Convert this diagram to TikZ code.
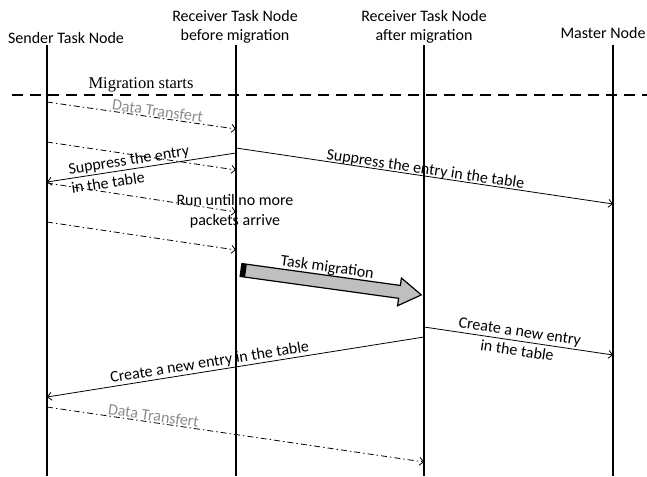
\documentclass[tikz,border=0pt]{standalone}
\usepackage{fontspec}
\setmainfont{Carlito}
\newfontfamily\serifmig{Liberation Serif}
\usetikzlibrary{arrows.meta}
\begin{document}
\begin{tikzpicture}
  [x=1pt,y=-1pt
  ,font=\fontsize{16}{19.5}\selectfont
  ,>={Straight Barb[length=4pt,width=8pt]}
  ,head/.style={align=center,inner sep=0pt}
  ,life/.style={line width=1.6pt}
  ,msg/.style={->,line width=0.8pt}
  ,data/.style={msg,dash pattern=on 6pt off 3pt on 1.5pt off 3pt}
  ,note/.style={sloped,inner sep=1pt}
  ,grey note/.style={note,text=black!45}
  ,baseline=0pt]
\useasboundingbox (0,0) rectangle (647,476);
\node at (66,38)  (S) [head] {Sender Task Node};
\node at (235,27) (B) [head] {Receiver Task Node\\before migration};
\node at (424,27) (A) [head] {Receiver Task Node\\after migration};
\node at (603,33) (M) [head] {Master Node};
\coordinate (Stop) at (47,45);  \coordinate (Send) at (47,476);
\coordinate (Btop) at (236,45); \coordinate (Bend) at (236,476);
\coordinate (Atop) at (424,45); \coordinate (Aend) at (424,476);
\coordinate (Mtop) at (613,45); \coordinate (Mend) at (613,476);
\draw [life] (Stop) -- (Send);
\draw [life] (Btop) -- (Bend);
\draw [life] (Atop) -- (Aend);
\draw [life] (Mtop) -- (Mend);
%
\draw [line width=1.6pt,dash pattern=on 11pt off 7pt] (12,95) coordinate (cut west) -- (647,95) coordinate (cut east);
\node at (141,85) (start) {\serifmig\fontsize{16.5}{19}\selectfont Migration starts};
%
\draw [data] (Stop |- 0,102) -- (Btop |- 0,129) node[grey note,pos=0.58,above] {Data Transfert};
\draw [data] (Stop |- 0,142) -- (Btop |- 0,170);
\draw [msg] (Btop |- 0,148) -- (Mtop |- 0,204) node[note,midway,above=-2pt] {Suppress the entry in the table};
\draw [msg] (Btop |- 0,153) -- (Stop |- 0,182) node[note,pos=0.56,align=left] {Suppress the entry\\in the table};
\draw [data] (Stop |- 0,183) -- (Btop |- 0,212);
\node at (235,211) (run) [align=center] {Run until no more\\packets arrive};
\draw [data] (Stop |- 0,222) -- (Btop |- 0,250);
%
\coordinate (mig) at (241,270);
\begin{scope}[shift={(mig)},rotate=-7.86]
  \filldraw [fill=black!25,line width=1.2pt,line join=miter] (0,-6.5) -- (160,-6.5) -- (160,-14) -- (182,0) -- (160,14) -- (160,6.5) -- (0,6.5) -- cycle;
  \fill (0,-6.5) rectangle (5,6.5);
  \node at (85,-14) (mig label) [rotate=-7.86] {Task migration};
\end{scope}
%
\draw [msg] (Atop |- 0,327) -- (Mtop |- 0,355) node[note,midway,align=center] {Create a new entry\\in the table};
\draw [msg] (Atop |- 0,337) -- (Stop |- 0,397) node[note,pos=0.565,above] {Create a new entry in the table};
\draw [data] (Stop |- 0,407) -- (Atop |- 0,462) node[grey note,pos=0.28,above] {Data Transfert};
\end{tikzpicture}
\end{document}
